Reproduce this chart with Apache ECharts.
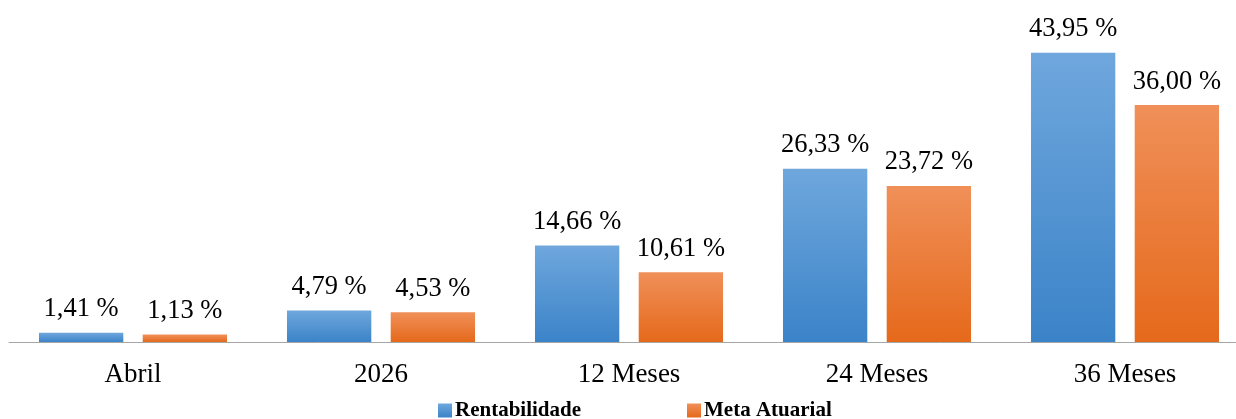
<!DOCTYPE html>
<html>
<head>
<meta charset="utf-8">
<script src="https://cdn.jsdelivr.net/npm/echarts@6/dist/echarts.min.js"></script>
<style>
  html, body { margin: 0; padding: 0; background: #fff; overflow: hidden; }
  #wrap { width: 1236px; height: 419px; overflow: hidden; }
  #chart { width: 1252px; height: 419px; }
</style>
</head>
<body>
<div id="wrap"><div id="chart"></div></div>
<script>
const categories = ['Abril', '2026', '12 Meses', '24 Meses', '36 Meses'];
const rentabilidade = [1.41, 4.79, 14.66, 26.33, 43.95];
const metaAtuarial = [1.13, 4.53, 10.61, 23.72, 36.00];
const seriesNames = ['Rentabilidade', 'Meta Atuarial'];

const fmt = v => v.toFixed(2).replace('.', ',') + ' %';
const serif = '"Liberation Serif", "DejaVu Serif", serif';

function grad(top, bottom) {
  return new echarts.graphic.LinearGradient(0, 0, 0, 1, [
    { offset: 0, color: top },
    { offset: 1, color: bottom }
  ]);
}

const valueLabel = {
  show: true, position: 'top', distance: 10,
  formatter: p => fmt(p.value),
  fontFamily: serif, fontSize: 26.5, color: '#000'
};

const chart = echarts.init(document.getElementById('chart'));
chart.setOption({
  animation: false,
  grid: { left: 9, top: 13, width: 1240, height: 329, containLabel: false },
  legend: {
    top: 400,
    left: 438,
    padding: 0,
    itemWidth: 14,
    itemHeight: 14,
    itemGap: 106,
    icon: 'rect',
    textStyle: { fontFamily: serif, fontSize: 21, fontWeight: 'bold', color: '#000', padding: [0, 0, 0, -2] },
    data: seriesNames
  },
  xAxis: {
    type: 'category',
    data: categories,
    axisLine: { lineStyle: { color: '#a6a6a6', width: 1 } },
    axisTick: { show: false },
    axisLabel: { fontFamily: serif, fontSize: 27, color: '#000', margin: 19 }
  },
  yAxis: {
    type: 'value',
    min: 0,
    max: 50,
    show: false,
    splitLine: { show: false }
  },
  series: [
    {
      name: seriesNames[0],
      type: 'bar',
      data: rentabilidade,
      barWidth: '34%',
      barGap: '23%',
      itemStyle: { color: grad('#6fa7dd', '#3b83c8') },
      label: valueLabel
    },
    {
      name: seriesNames[1],
      type: 'bar',
      data: metaAtuarial,
      barWidth: '34%',
      itemStyle: { color: grad('#f09059', '#e5691b') },
      label: valueLabel
    }
  ]
});
</script>
</body>
</html>
